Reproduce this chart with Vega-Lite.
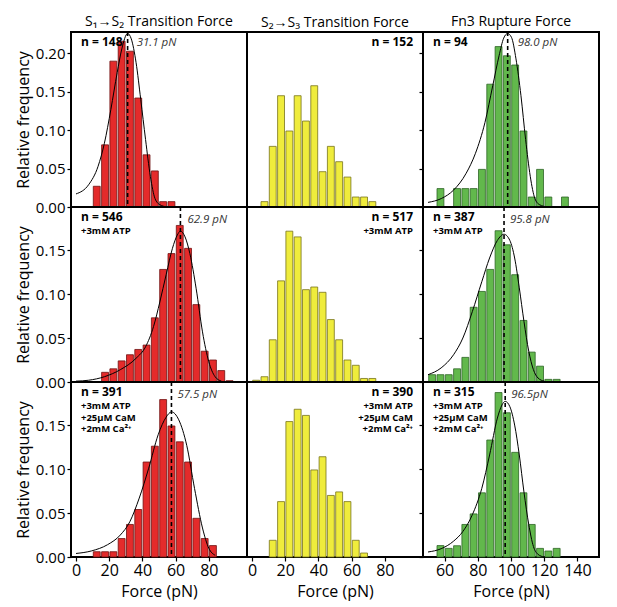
{
  "$schema": "https://vega.github.io/schema/vega-lite/v6.json",
  "padding": {"left": 14, "top": 14, "right": 5, "bottom": 5},
  "datasets": {
    "bars": [
      {"p": "11", "f": 12.5, "y": 0.027}, {"p": "11", "f": 17.5, "y": 0.081}, {"p": "11", "f": 22.5, "y": 0.19}, {"p": "11", "f": 27.5, "y": 0.216}, {"p": "11", "f": 32.5, "y": 0.203}, {"p": "11", "f": 37.5, "y": 0.142}, {"p": "11", "f": 42.5, "y": 0.068}, {"p": "11", "f": 47.5, "y": 0.047}, {"p": "11", "f": 52.5, "y": 0.007}, {"p": "11", "f": 57.5, "y": 0.007},
      {"p": "12", "f": 7.5, "y": 0.007}, {"p": "12", "f": 12.5, "y": 0.079}, {"p": "12", "f": 17.5, "y": 0.145}, {"p": "12", "f": 22.5, "y": 0.099}, {"p": "12", "f": 27.5, "y": 0.145}, {"p": "12", "f": 32.5, "y": 0.112}, {"p": "12", "f": 37.5, "y": 0.158}, {"p": "12", "f": 42.5, "y": 0.046}, {"p": "12", "f": 47.5, "y": 0.079}, {"p": "12", "f": 52.5, "y": 0.059}, {"p": "12", "f": 57.5, "y": 0.039}, {"p": "12", "f": 62.5, "y": 0.013}, {"p": "12", "f": 67.5, "y": 0.013}, {"p": "12", "f": 72.5, "y": 0.007},
      {"p": "13", "f": 57.5, "y": 0.024}, {"p": "13", "f": 67.5, "y": 0.024}, {"p": "13", "f": 72.5, "y": 0.024}, {"p": "13", "f": 77.5, "y": 0.024}, {"p": "13", "f": 82.5, "y": 0.049}, {"p": "13", "f": 87.5, "y": 0.16}, {"p": "13", "f": 92.5, "y": 0.209}, {"p": "13", "f": 97.5, "y": 0.197}, {"p": "13", "f": 102.5, "y": 0.185}, {"p": "13", "f": 107.5, "y": 0.099}, {"p": "13", "f": 112.5, "y": 0.013}, {"p": "13", "f": 117.5, "y": 0.049}, {"p": "13", "f": 122.5, "y": 0.013}, {"p": "13", "f": 132.5, "y": 0.013},
      {"p": "21", "f": 17.5, "y": 0.011}, {"p": "21", "f": 22.5, "y": 0.015}, {"p": "21", "f": 27.5, "y": 0.024}, {"p": "21", "f": 32.5, "y": 0.031}, {"p": "21", "f": 37.5, "y": 0.037}, {"p": "21", "f": 42.5, "y": 0.042}, {"p": "21", "f": 47.5, "y": 0.073}, {"p": "21", "f": 52.5, "y": 0.128}, {"p": "21", "f": 57.5, "y": 0.146}, {"p": "21", "f": 62.5, "y": 0.178}, {"p": "21", "f": 67.5, "y": 0.152}, {"p": "21", "f": 72.5, "y": 0.088}, {"p": "21", "f": 77.5, "y": 0.035}, {"p": "21", "f": 82.5, "y": 0.025}, {"p": "21", "f": 87.5, "y": 0.013}, {"p": "21", "f": 92.5, "y": 0.0015},
      {"p": "22", "f": 2.5, "y": 0.002}, {"p": "22", "f": 7.5, "y": 0.006}, {"p": "22", "f": 12.5, "y": 0.048}, {"p": "22", "f": 17.5, "y": 0.115}, {"p": "22", "f": 22.5, "y": 0.1715}, {"p": "22", "f": 27.5, "y": 0.165}, {"p": "22", "f": 32.5, "y": 0.105}, {"p": "22", "f": 37.5, "y": 0.108}, {"p": "22", "f": 42.5, "y": 0.102}, {"p": "22", "f": 47.5, "y": 0.071}, {"p": "22", "f": 52.5, "y": 0.048}, {"p": "22", "f": 57.5, "y": 0.025}, {"p": "22", "f": 62.5, "y": 0.019}, {"p": "22", "f": 67.5, "y": 0.004}, {"p": "22", "f": 72.5, "y": 0.004},
      {"p": "23", "f": 52.5, "y": 0.0083}, {"p": "23", "f": 57.5, "y": 0.0083}, {"p": "23", "f": 62.5, "y": 0.0083}, {"p": "23", "f": 67.5, "y": 0.015}, {"p": "23", "f": 72.5, "y": 0.028}, {"p": "23", "f": 77.5, "y": 0.085}, {"p": "23", "f": 82.5, "y": 0.103}, {"p": "23", "f": 87.5, "y": 0.128}, {"p": "23", "f": 92.5, "y": 0.172}, {"p": "23", "f": 97.5, "y": 0.156}, {"p": "23", "f": 102.5, "y": 0.122}, {"p": "23", "f": 107.5, "y": 0.07}, {"p": "23", "f": 112.5, "y": 0.034}, {"p": "23", "f": 117.5, "y": 0.018}, {"p": "23", "f": 122.5, "y": 0.003}, {"p": "23", "f": 127.5, "y": 0.003},
      {"p": "31", "f": 12.5, "y": 0.006}, {"p": "31", "f": 17.5, "y": 0.006}, {"p": "31", "f": 22.5, "y": 0.006}, {"p": "31", "f": 27.5, "y": 0.021}, {"p": "31", "f": 32.5, "y": 0.037}, {"p": "31", "f": 37.5, "y": 0.054}, {"p": "31", "f": 42.5, "y": 0.108}, {"p": "31", "f": 47.5, "y": 0.126}, {"p": "31", "f": 52.5, "y": 0.179}, {"p": "31", "f": 57.5, "y": 0.149}, {"p": "31", "f": 62.5, "y": 0.131}, {"p": "31", "f": 67.5, "y": 0.108}, {"p": "31", "f": 72.5, "y": 0.044}, {"p": "31", "f": 77.5, "y": 0.021}, {"p": "31", "f": 82.5, "y": 0.013},
      {"p": "32", "f": 12.5, "y": 0.019}, {"p": "32", "f": 17.5, "y": 0.063}, {"p": "32", "f": 22.5, "y": 0.154}, {"p": "32", "f": 27.5, "y": 0.168}, {"p": "32", "f": 32.5, "y": 0.161}, {"p": "32", "f": 37.5, "y": 0.099}, {"p": "32", "f": 42.5, "y": 0.114}, {"p": "32", "f": 47.5, "y": 0.07}, {"p": "32", "f": 52.5, "y": 0.074}, {"p": "32", "f": 57.5, "y": 0.063}, {"p": "32", "f": 62.5, "y": 0.019}, {"p": "32", "f": 67.5, "y": 0.0045},
      {"p": "33", "f": 57.5, "y": 0.013}, {"p": "33", "f": 62.5, "y": 0.0098}, {"p": "33", "f": 67.5, "y": 0.0128}, {"p": "33", "f": 72.5, "y": 0.037}, {"p": "33", "f": 77.5, "y": 0.049}, {"p": "33", "f": 82.5, "y": 0.073}, {"p": "33", "f": 87.5, "y": 0.133}, {"p": "33", "f": 92.5, "y": 0.187}, {"p": "33", "f": 97.5, "y": 0.164}, {"p": "33", "f": 102.5, "y": 0.119}, {"p": "33", "f": 107.5, "y": 0.073}, {"p": "33", "f": 112.5, "y": 0.037}, {"p": "33", "f": 117.5, "y": 0.0098}, {"p": "33", "f": 122.5, "y": 0.0068}, {"p": "33", "f": 127.5, "y": 0.0098}
    ],
    "curves": [
      {"p": "11", "x": 0, "y": 0.017}, {"p": "11", "x": 7.6, "y": 0.029}, {"p": "11", "x": 13.3, "y": 0.053}, {"p": "11", "x": 17.1, "y": 0.083}, {"p": "11", "x": 21, "y": 0.127}, {"p": "11", "x": 24.8, "y": 0.175}, {"p": "11", "x": 27.6, "y": 0.206}, {"p": "11", "x": 31.1, "y": 0.226}, {"p": "11", "x": 33.3, "y": 0.219}, {"p": "11", "x": 36.2, "y": 0.188}, {"p": "11", "x": 39, "y": 0.14}, {"p": "11", "x": 41.9, "y": 0.088}, {"p": "11", "x": 44.8, "y": 0.04}, {"p": "11", "x": 47.6, "y": 0.011}, {"p": "11", "x": 50.5, "y": 0.003}, {"p": "11", "x": 55, "y": 0},
      {"p": "13", "x": 50, "y": 0.006}, {"p": "13", "x": 58, "y": 0.011}, {"p": "13", "x": 65.4, "y": 0.022}, {"p": "13", "x": 73, "y": 0.044}, {"p": "13", "x": 78.6, "y": 0.07}, {"p": "13", "x": 84.3, "y": 0.11}, {"p": "13", "x": 89, "y": 0.158}, {"p": "13", "x": 92.8, "y": 0.197}, {"p": "13", "x": 95.6, "y": 0.22}, {"p": "13", "x": 98, "y": 0.226}, {"p": "13", "x": 100.3, "y": 0.221}, {"p": "13", "x": 103, "y": 0.193}, {"p": "13", "x": 106, "y": 0.145}, {"p": "13", "x": 108.8, "y": 0.088}, {"p": "13", "x": 111.6, "y": 0.04}, {"p": "13", "x": 114.4, "y": 0.011}, {"p": "13", "x": 117.2, "y": 0.003}, {"p": "13", "x": 122, "y": 0},
      {"p": "21", "x": 0, "y": 0.001}, {"p": "21", "x": 7.6, "y": 0.002}, {"p": "21", "x": 17.1, "y": 0.006}, {"p": "21", "x": 26.7, "y": 0.014}, {"p": "21", "x": 36.2, "y": 0.027}, {"p": "21", "x": 41.9, "y": 0.04}, {"p": "21", "x": 46.7, "y": 0.063}, {"p": "21", "x": 50.5, "y": 0.091}, {"p": "21", "x": 54.3, "y": 0.122}, {"p": "21", "x": 58.1, "y": 0.152}, {"p": "21", "x": 61, "y": 0.167}, {"p": "21", "x": 62.9, "y": 0.1715}, {"p": "21", "x": 65.7, "y": 0.165}, {"p": "21", "x": 68.6, "y": 0.146}, {"p": "21", "x": 72.4, "y": 0.106}, {"p": "21", "x": 76.2, "y": 0.057}, {"p": "21", "x": 80, "y": 0.023}, {"p": "21", "x": 83.8, "y": 0.006}, {"p": "21", "x": 87.6, "y": 0.001},
      {"p": "23", "x": 50, "y": 0.0083}, {"p": "23", "x": 57.9, "y": 0.016}, {"p": "23", "x": 65.4, "y": 0.031}, {"p": "23", "x": 71, "y": 0.05}, {"p": "23", "x": 76.7, "y": 0.08}, {"p": "23", "x": 82.4, "y": 0.114}, {"p": "23", "x": 87.1, "y": 0.141}, {"p": "23", "x": 91.8, "y": 0.161}, {"p": "23", "x": 95.8, "y": 0.168}, {"p": "23", "x": 99.3, "y": 0.161}, {"p": "23", "x": 102.2, "y": 0.141}, {"p": "23", "x": 105, "y": 0.107}, {"p": "23", "x": 107.8, "y": 0.069}, {"p": "23", "x": 110.7, "y": 0.035}, {"p": "23", "x": 113.5, "y": 0.014}, {"p": "23", "x": 116.3, "y": 0.0045}, {"p": "23", "x": 120, "y": 0.001},
      {"p": "31", "x": 0, "y": 0.004}, {"p": "31", "x": 9.5, "y": 0.007}, {"p": "31", "x": 19, "y": 0.014}, {"p": "31", "x": 26.7, "y": 0.025}, {"p": "31", "x": 32.4, "y": 0.04}, {"p": "31", "x": 38.1, "y": 0.067}, {"p": "31", "x": 43.8, "y": 0.101}, {"p": "31", "x": 49.5, "y": 0.139}, {"p": "31", "x": 54.3, "y": 0.159}, {"p": "31", "x": 57.5, "y": 0.165}, {"p": "31", "x": 61.9, "y": 0.156}, {"p": "31", "x": 66.7, "y": 0.127}, {"p": "31", "x": 71.4, "y": 0.078}, {"p": "31", "x": 76.2, "y": 0.033}, {"p": "31", "x": 80, "y": 0.01}, {"p": "31", "x": 83.8, "y": 0.002},
      {"p": "33", "x": 50, "y": 0.0057}, {"p": "33", "x": 57.9, "y": 0.0094}, {"p": "33", "x": 65.4, "y": 0.018}, {"p": "33", "x": 71, "y": 0.029}, {"p": "33", "x": 76.7, "y": 0.048}, {"p": "33", "x": 82.4, "y": 0.078}, {"p": "33", "x": 87.1, "y": 0.116}, {"p": "33", "x": 91.8, "y": 0.158}, {"p": "33", "x": 94.6, "y": 0.173}, {"p": "33", "x": 96.5, "y": 0.177}, {"p": "33", "x": 99.3, "y": 0.171}, {"p": "33", "x": 102.2, "y": 0.15}, {"p": "33", "x": 105, "y": 0.116}, {"p": "33", "x": 107.8, "y": 0.074}, {"p": "33", "x": 110.7, "y": 0.037}, {"p": "33", "x": 113.5, "y": 0.012}, {"p": "33", "x": 116.3, "y": 0.003}, {"p": "33", "x": 120, "y": 0}
    ],
    "peaks": [
      {"p": "11", "pk": 31.1, "lab": "31.1 pN"},
      {"p": "13", "pk": 98.0, "lab": "98.0 pN"},
      {"p": "21", "pk": 62.9, "lab": "62.9 pN"},
      {"p": "23", "pk": 95.8, "lab": "95.8 pN"},
      {"p": "31", "pk": 57.5, "lab": "57.5 pN"},
      {"p": "33", "pk": 96.5, "lab": "96.5pN"}
    ]
  },
  "columns": 3,
  "spacing": 0,
  "bounds": "flush",
  "concat": [
    {
      "width": 176, "height": 175,
      "title": {"text": "S₁→S₂ Transition Force"},
      "layer": [
        {"data": {"name": "bars"}, "transform": [{"filter": "datum.p == '11'"}],
         "mark": {"type": "bar", "width": 6.9, "fill": "#e42b2b", "stroke": "#6e1212", "strokeWidth": 0.8},
         "encoding": {
           "x": {"field": "f", "type": "quantitative", "scale": {"domain": [0, 100], "nice": false, "zero": false}, "axis": null},
           "y": {"field": "y", "type": "quantitative", "scale": {"domain": [0, 0.228], "nice": false},
                 "axis": {"title": "Relative frequency", "values": [0, 0.025, 0.05, 0.075, 0.1, 0.125, 0.15, 0.175, 0.2, 0.225], "format": ".2f", "labelExpr": "round(datum.value * 1000) % 50 == 0 ? datum.label : ''"}}
         }},
        {"data": {"name": "curves"}, "transform": [{"filter": "datum.p == '11'"}],
         "mark": {"type": "line", "color": "black", "strokeWidth": 1, "interpolate": "monotone"},
         "encoding": {"x": {"field": "x", "type": "quantitative"}, "y": {"field": "y", "type": "quantitative"}}},
        {"data": {"name": "peaks"}, "transform": [{"filter": "datum.p == '11'"}],
         "mark": {"type": "rule", "color": "black", "strokeWidth": 1.6, "strokeDash": [4, 3]},
         "encoding": {"x": {"field": "pk", "type": "quantitative"}}},
        {"data": {"name": "peaks"}, "transform": [{"filter": "datum.p == '11'"}],
         "mark": {"type": "text", "align": "left", "dx": 9, "dy": 13.5, "fontStyle": "italic", "fontSize": 11.5, "color": "#333333"},
         "encoding": {"x": {"field": "pk", "type": "quantitative"}, "y": {"datum": 0.228}, "text": {"field": "lab"}}},
        {"data": {"values": [{}]},
         "mark": {"type": "text", "text": "n = 148", "align": "left", "dy": 13.5, "fontWeight": "bold", "fontSize": 12},
         "encoding": {"x": {"datum": 3}, "y": {"datum": 0.228}}}
      ]
    },
    {
      "width": 176, "height": 175,
      "title": {"text": "S₂→S₃ Transition Force"},
      "layer": [
        {"data": {"name": "bars"}, "transform": [{"filter": "datum.p == '12'"}],
         "mark": {"type": "bar", "width": 6.9, "fill": "#efec3c", "stroke": "#77731c", "strokeWidth": 0.8},
         "encoding": {
           "x": {"field": "f", "type": "quantitative", "scale": {"domain": [0, 100], "nice": false, "zero": false}, "axis": null},
           "y": {"field": "y", "type": "quantitative", "scale": {"domain": [0, 0.228], "nice": false}, "axis": null}
         }},
        {"data": {"values": [{}]},
         "mark": {"type": "text", "text": "n = 152", "align": "right", "dy": 13.5, "fontWeight": "bold", "fontSize": 12},
         "encoding": {"x": {"datum": 97}, "y": {"datum": 0.228}}}
      ]
    },
    {
      "width": 176, "height": 175,
      "title": {"text": "Fn3 Rupture Force"},
      "layer": [
        {"data": {"name": "bars"}, "transform": [{"filter": "datum.p == '13'"}],
         "mark": {"type": "bar", "width": 6.9, "fill": "#62b84c", "stroke": "#2d6426", "strokeWidth": 0.8},
         "encoding": {
           "x": {"field": "f", "type": "quantitative", "scale": {"domain": [50, 150], "nice": false, "zero": false}, "axis": null},
           "y": {"field": "y", "type": "quantitative", "scale": {"domain": [0, 0.228], "nice": false},
                 "axis": {"title": null, "labels": false, "values": [0, 0.025, 0.05, 0.075, 0.1, 0.125, 0.15, 0.175, 0.2, 0.225]}}
         }},
        {"data": {"name": "curves"}, "transform": [{"filter": "datum.p == '13'"}],
         "mark": {"type": "line", "color": "black", "strokeWidth": 1, "interpolate": "monotone"},
         "encoding": {"x": {"field": "x", "type": "quantitative"}, "y": {"field": "y", "type": "quantitative"}}},
        {"data": {"name": "peaks"}, "transform": [{"filter": "datum.p == '13'"}],
         "mark": {"type": "rule", "color": "black", "strokeWidth": 1.6, "strokeDash": [4, 3]},
         "encoding": {"x": {"field": "pk", "type": "quantitative"}}},
        {"data": {"name": "peaks"}, "transform": [{"filter": "datum.p == '13'"}],
         "mark": {"type": "text", "align": "left", "dx": 10, "dy": 13.5, "fontStyle": "italic", "fontSize": 11.5, "color": "#333333"},
         "encoding": {"x": {"field": "pk", "type": "quantitative"}, "y": {"datum": 0.228}, "text": {"field": "lab"}}},
        {"data": {"values": [{}]},
         "mark": {"type": "text", "text": "n = 94", "align": "left", "dy": 13.5, "fontWeight": "bold", "fontSize": 12},
         "encoding": {"x": {"datum": 53}, "y": {"datum": 0.228}}}
      ]
    },
    {
      "width": 176, "height": 175,
      "layer": [
        {"data": {"name": "bars"}, "transform": [{"filter": "datum.p == '21'"}],
         "mark": {"type": "bar", "width": 6.9, "fill": "#e42b2b", "stroke": "#6e1212", "strokeWidth": 0.8},
         "encoding": {
           "x": {"field": "f", "type": "quantitative", "scale": {"domain": [0, 100], "nice": false, "zero": false}, "axis": null},
           "y": {"field": "y", "type": "quantitative", "scale": {"domain": [0, 0.199], "nice": false},
                 "axis": {"title": "Relative frequency", "values": [0, 0.025, 0.05, 0.075, 0.1, 0.125, 0.15, 0.175], "format": ".2f", "labelExpr": "round(datum.value * 1000) % 50 == 0 ? datum.label : ''"}}
         }},
        {"data": {"name": "curves"}, "transform": [{"filter": "datum.p == '21'"}],
         "mark": {"type": "line", "color": "black", "strokeWidth": 1, "interpolate": "monotone"},
         "encoding": {"x": {"field": "x", "type": "quantitative"}, "y": {"field": "y", "type": "quantitative"}}},
        {"data": {"name": "peaks"}, "transform": [{"filter": "datum.p == '21'"}],
         "mark": {"type": "rule", "color": "black", "strokeWidth": 1.6, "strokeDash": [4, 3]},
         "encoding": {"x": {"field": "pk", "type": "quantitative"}}},
        {"data": {"name": "peaks"}, "transform": [{"filter": "datum.p == '21'"}],
         "mark": {"type": "text", "align": "left", "dx": 7, "dy": 15.5, "fontStyle": "italic", "fontSize": 11.5, "color": "#333333"},
         "encoding": {"x": {"field": "pk", "type": "quantitative"}, "y": {"datum": 0.199}, "text": {"field": "lab"}}},
        {"data": {"values": [{}]},
         "mark": {"type": "text", "text": "n = 546", "align": "left", "dy": 14, "fontWeight": "bold", "fontSize": 12},
         "encoding": {"x": {"datum": 3}, "y": {"datum": 0.199}}},
        {"data": {"values": [{}]},
         "mark": {"type": "text", "text": "+3mM ATP", "align": "left", "dy": 27, "fontWeight": "bold", "fontSize": 9.5},
         "encoding": {"x": {"datum": 3}, "y": {"datum": 0.199}}}
      ]
    },
    {
      "width": 176, "height": 175,
      "layer": [
        {"data": {"name": "bars"}, "transform": [{"filter": "datum.p == '22'"}],
         "mark": {"type": "bar", "width": 6.9, "fill": "#efec3c", "stroke": "#77731c", "strokeWidth": 0.8},
         "encoding": {
           "x": {"field": "f", "type": "quantitative", "scale": {"domain": [0, 100], "nice": false, "zero": false}, "axis": null},
           "y": {"field": "y", "type": "quantitative", "scale": {"domain": [0, 0.199], "nice": false}, "axis": null}
         }},
        {"data": {"values": [{}]},
         "mark": {"type": "text", "text": "n = 517", "align": "right", "dy": 14, "fontWeight": "bold", "fontSize": 12},
         "encoding": {"x": {"datum": 97}, "y": {"datum": 0.199}}},
        {"data": {"values": [{}]},
         "mark": {"type": "text", "text": "+3mM ATP", "align": "right", "dy": 27, "fontWeight": "bold", "fontSize": 9.5},
         "encoding": {"x": {"datum": 97}, "y": {"datum": 0.199}}}
      ]
    },
    {
      "width": 176, "height": 175,
      "layer": [
        {"data": {"name": "bars"}, "transform": [{"filter": "datum.p == '23'"}],
         "mark": {"type": "bar", "width": 6.9, "fill": "#62b84c", "stroke": "#2d6426", "strokeWidth": 0.8},
         "encoding": {
           "x": {"field": "f", "type": "quantitative", "scale": {"domain": [50, 150], "nice": false, "zero": false}, "axis": null},
           "y": {"field": "y", "type": "quantitative", "scale": {"domain": [0, 0.199], "nice": false},
                 "axis": {"title": null, "labels": false, "values": [0, 0.025, 0.05, 0.075, 0.1, 0.125, 0.15, 0.175]}}
         }},
        {"data": {"name": "curves"}, "transform": [{"filter": "datum.p == '23'"}],
         "mark": {"type": "line", "color": "black", "strokeWidth": 1, "interpolate": "monotone"},
         "encoding": {"x": {"field": "x", "type": "quantitative"}, "y": {"field": "y", "type": "quantitative"}}},
        {"data": {"name": "peaks"}, "transform": [{"filter": "datum.p == '23'"}],
         "mark": {"type": "rule", "color": "black", "strokeWidth": 1.6, "strokeDash": [4, 3]},
         "encoding": {"x": {"field": "pk", "type": "quantitative"}}},
        {"data": {"name": "peaks"}, "transform": [{"filter": "datum.p == '23'"}],
         "mark": {"type": "text", "align": "left", "dx": 6, "dy": 16, "fontStyle": "italic", "fontSize": 11.5, "color": "#333333"},
         "encoding": {"x": {"field": "pk", "type": "quantitative"}, "y": {"datum": 0.199}, "text": {"field": "lab"}}},
        {"data": {"values": [{}]},
         "mark": {"type": "text", "text": "n = 387", "align": "left", "dy": 14, "fontWeight": "bold", "fontSize": 12},
         "encoding": {"x": {"datum": 53}, "y": {"datum": 0.199}}},
        {"data": {"values": [{}]},
         "mark": {"type": "text", "text": "+3mM ATP", "align": "left", "dy": 27, "fontWeight": "bold", "fontSize": 9.5},
         "encoding": {"x": {"datum": 53}, "y": {"datum": 0.199}}}
      ]
    },
    {
      "width": 176, "height": 175,
      "layer": [
        {"data": {"name": "bars"}, "transform": [{"filter": "datum.p == '31'"}],
         "mark": {"type": "bar", "width": 6.9, "fill": "#e42b2b", "stroke": "#6e1212", "strokeWidth": 0.8},
         "encoding": {
           "x": {"field": "f", "type": "quantitative", "scale": {"domain": [0, 100], "nice": false, "zero": false},
                 "axis": {"title": "Force (pN)", "values": [0, 10, 20, 30, 40, 50, 60, 70, 80, 90], "labelExpr": "datum.value % 20 == 0 ? datum.label : ''"}},
           "y": {"field": "y", "type": "quantitative", "scale": {"domain": [0, 0.199], "nice": false},
                 "axis": {"title": "Relative frequency", "values": [0, 0.025, 0.05, 0.075, 0.1, 0.125, 0.15, 0.175], "format": ".2f", "labelExpr": "round(datum.value * 1000) % 50 == 0 ? datum.label : ''"}}
         }},
        {"data": {"name": "curves"}, "transform": [{"filter": "datum.p == '31'"}],
         "mark": {"type": "line", "color": "black", "strokeWidth": 1, "interpolate": "monotone"},
         "encoding": {"x": {"field": "x", "type": "quantitative"}, "y": {"field": "y", "type": "quantitative"}}},
        {"data": {"name": "peaks"}, "transform": [{"filter": "datum.p == '31'"}],
         "mark": {"type": "rule", "color": "black", "strokeWidth": 1.6, "strokeDash": [4, 3]},
         "encoding": {"x": {"field": "pk", "type": "quantitative"}}},
        {"data": {"name": "peaks"}, "transform": [{"filter": "datum.p == '31'"}],
         "mark": {"type": "text", "align": "left", "dx": 6, "dy": 15.5, "fontStyle": "italic", "fontSize": 11.5, "color": "#333333"},
         "encoding": {"x": {"field": "pk", "type": "quantitative"}, "y": {"datum": 0.199}, "text": {"field": "lab"}}},
        {"data": {"values": [{}]},
         "mark": {"type": "text", "text": "n = 391", "align": "left", "dy": 14, "fontWeight": "bold", "fontSize": 12},
         "encoding": {"x": {"datum": 3}, "y": {"datum": 0.199}}},
        {"data": {"values": [{}]},
         "mark": {"type": "text", "text": ["+3mM ATP", "+25μM CaM", "+2mM Ca²⁺"], "align": "left", "dy": 27, "lineHeight": 11.5, "fontWeight": "bold", "fontSize": 9.5},
         "encoding": {"x": {"datum": 3}, "y": {"datum": 0.199}}}
      ]
    },
    {
      "width": 176, "height": 175,
      "layer": [
        {"data": {"name": "bars"}, "transform": [{"filter": "datum.p == '32'"}],
         "mark": {"type": "bar", "width": 6.9, "fill": "#efec3c", "stroke": "#77731c", "strokeWidth": 0.8},
         "encoding": {
           "x": {"field": "f", "type": "quantitative", "scale": {"domain": [0, 100], "nice": false, "zero": false},
                 "axis": {"title": "Force (pN)", "values": [0, 10, 20, 30, 40, 50, 60, 70, 80, 90], "labelExpr": "datum.value % 20 == 0 ? datum.label : ''"}},
           "y": {"field": "y", "type": "quantitative", "scale": {"domain": [0, 0.199], "nice": false}, "axis": null}
         }},
        {"data": {"values": [{}]},
         "mark": {"type": "text", "text": "n = 390", "align": "right", "dy": 14, "fontWeight": "bold", "fontSize": 12},
         "encoding": {"x": {"datum": 97}, "y": {"datum": 0.199}}},
        {"data": {"values": [{}]},
         "mark": {"type": "text", "text": ["+3mM ATP", "+25μM CaM", "+2mM Ca²⁺"], "align": "right", "dy": 27, "lineHeight": 11.5, "fontWeight": "bold", "fontSize": 9.5},
         "encoding": {"x": {"datum": 97}, "y": {"datum": 0.199}}}
      ]
    },
    {
      "width": 176, "height": 175,
      "layer": [
        {"data": {"name": "bars"}, "transform": [{"filter": "datum.p == '33'"}],
         "mark": {"type": "bar", "width": 6.9, "fill": "#62b84c", "stroke": "#2d6426", "strokeWidth": 0.8},
         "encoding": {
           "x": {"field": "f", "type": "quantitative", "scale": {"domain": [50, 150], "nice": false, "zero": false},
                 "axis": {"title": "Force (pN)", "values": [60, 70, 80, 90, 100, 110, 120, 130, 140], "labelExpr": "datum.value % 20 == 0 ? datum.label : ''"}},
           "y": {"field": "y", "type": "quantitative", "scale": {"domain": [0, 0.199], "nice": false},
                 "axis": {"title": null, "labels": false, "values": [0, 0.025, 0.05, 0.075, 0.1, 0.125, 0.15, 0.175]}}
         }},
        {"data": {"name": "curves"}, "transform": [{"filter": "datum.p == '33'"}],
         "mark": {"type": "line", "color": "black", "strokeWidth": 1, "interpolate": "monotone"},
         "encoding": {"x": {"field": "x", "type": "quantitative"}, "y": {"field": "y", "type": "quantitative"}}},
        {"data": {"name": "peaks"}, "transform": [{"filter": "datum.p == '33'"}],
         "mark": {"type": "rule", "color": "black", "strokeWidth": 1.6, "strokeDash": [4, 3]},
         "encoding": {"x": {"field": "pk", "type": "quantitative"}}},
        {"data": {"name": "peaks"}, "transform": [{"filter": "datum.p == '33'"}],
         "mark": {"type": "text", "align": "left", "dx": 6, "dy": 15.5, "fontStyle": "italic", "fontSize": 11.5, "color": "#333333"},
         "encoding": {"x": {"field": "pk", "type": "quantitative"}, "y": {"datum": 0.199}, "text": {"field": "lab"}}},
        {"data": {"values": [{}]},
         "mark": {"type": "text", "text": "n = 315", "align": "left", "dy": 14, "fontWeight": "bold", "fontSize": 12},
         "encoding": {"x": {"datum": 53}, "y": {"datum": 0.199}}},
        {"data": {"values": [{}]},
         "mark": {"type": "text", "text": ["+3mM ATP", "+25μM CaM", "+2mM Ca²⁺"], "align": "left", "dy": 27, "lineHeight": 11.5, "fontWeight": "bold", "fontSize": 9.5},
         "encoding": {"x": {"datum": 53}, "y": {"datum": 0.199}}}
      ]
    }
  ],
  "config": {
    "font": "Open Sans",
    "view": {"stroke": "black", "strokeWidth": 2},
    "axis": {"domain": false, "grid": false, "ticks": true, "tickColor": "black", "tickSize": 4, "tickWidth": 1.2, "labelColor": "black", "titleColor": "black", "labelFont": "Open Sans", "titleFont": "Open Sans", "titleFontWeight": "normal"},
    "axisX": {"labelFontSize": 16, "titleFontSize": 16, "labelPadding": 1, "titlePadding": 5, "labelFlush": false},
    "axisY": {"labelFontSize": 15, "titleFontSize": 16, "labelPadding": 2, "titlePadding": 4},
    "title": {"fontSize": 14, "fontWeight": "normal", "anchor": "middle", "offset": 2, "color": "black"},
    "text": {"baseline": "alphabetic", "color": "black"}
  }
}
